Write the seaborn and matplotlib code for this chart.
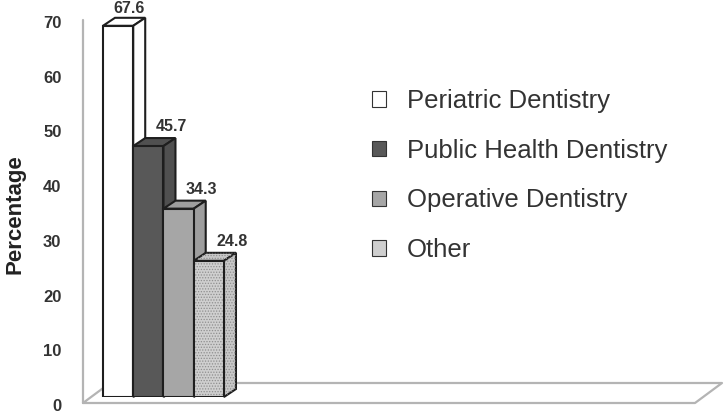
import matplotlib
matplotlib.use("Agg")
import pandas as pd
import seaborn as sns
import matplotlib.pyplot as plt
from matplotlib.patches import Polygon
from matplotlib.lines import Line2D

# chart data
categories = ["Periatric Dentistry", "Public Health Dentistry", "Operative Dentistry", "Other"]
percentages = [67.6, 45.7, 34.3, 24.8]
y_ticks = [0, 10, 20, 30, 40, 50, 60, 70]

front_colors = ["#ffffff", "#585858", "#a6a6a6", "#cfcfcf"]
side_colors = ["#ffffff", "#505050", "#9e9e9e", "#c8c8c8"]
speckled = [False, False, False, True]
label_dx_px = [11, 23, 23, 23]
label_dy_px = [13, 15, 15, 15]

W, H = 726, 413


def fx(px):
    return px / W


def fy(py):
    return 1 - py / H


sns.set_style("white")
plt.rcParams["font.family"] = ["Liberation Sans", "DejaVu Sans"]
plt.rcParams["hatch.linewidth"] = 0.6

df = pd.DataFrame({"group": [""] * len(categories),
                   "Specialty": categories,
                   "Percentage": percentages})

fig = plt.figure(figsize=(W / 100, H / 100), dpi=100)
ax = fig.add_axes([fx(83), fy(397), fx(695) - fx(83), fy(0) - fy(397)])
sns.barplot(data=df, x="group", y="Percentage", hue="Specialty",
            hue_order=categories, palette=front_colors, saturation=1,
            edgecolor="#1e1e1e", linewidth=1.5, width=0.8, ax=ax)
ax.set_xlim(-0.532, 3.514)
ax.set_ylim(0, 72.3)
ax.axis("off")

# depth of the fake 3d boxes, in data units
bbox = ax.get_window_extent()
x0, x1 = ax.get_xlim()
y0, y1 = ax.get_ylim()
dx = 12 * (x1 - x0) / bbox.width
dy = 8 * (y1 - y0) / bbox.height

bars = [b for cont in ax.containers for b in cont]
for i, bar in enumerate(bars):
    bx, bw, bh = bar.get_x(), bar.get_width(), bar.get_height()
    bar.set_zorder(3 + i)
    top = [(bx, bh), (bx + dx, bh + dy), (bx + bw + dx, bh + dy), (bx + bw, bh)]
    side = [(bx + bw, 0), (bx + bw, bh), (bx + bw + dx, bh + dy), (bx + bw + dx, dy)]
    for pts in (top, side):
        ax.add_patch(Polygon(pts, closed=True, facecolor=side_colors[i],
                             edgecolor="#1e1e1e", linewidth=1.5,
                             zorder=2.9 + i, clip_on=False))
        if speckled[i]:
            ax.add_patch(Polygon(pts, closed=True, fill=False, edgecolor="#8f8f8f",
                                 linewidth=0, hatch="......", zorder=2.95 + i,
                                 clip_on=False))
    if speckled[i]:
        front = [(bx, 0), (bx, bh), (bx + bw, bh), (bx + bw, 0)]
        ax.add_patch(Polygon(front, closed=True, facecolor=front_colors[i],
                             edgecolor="none", zorder=3 + i, clip_on=False))
        ax.add_patch(Polygon(front, closed=True, fill=False, edgecolor="#8f8f8f",
                             linewidth=0, hatch="......", zorder=3.05 + i,
                             clip_on=False))
        bar.set_zorder(3.1 + i)
        bar.set_facecolor("none")
    ax.annotate(f"{percentages[i]}", xy=(bx + bw / 2, bh),
                xytext=(label_dx_px[i] / 1.389, label_dy_px[i] / 1.389),
                textcoords="offset points",
                ha="center", va="baseline", fontsize=11.5, fontweight="bold",
                color="#333333", annotation_clip=False, zorder=10)

# floor and wall lines
wall = dict(color="#b4b4b4", linewidth=1.6, transform=fig.transFigure,
            clip_on=False, zorder=1)
ax.add_line(Line2D([fx(83), fx(83)], [fy(20), fy(403)], **wall))
ax.add_line(Line2D([fx(83), fx(695), fx(722), fx(110), fx(83)],
                   [fy(403), fy(403), fy(383), fy(383), fy(403)], **wall))

# tick labels on the back wall scale
tax = fig.add_axes([fx(83), fy(405), 0.001, fy(22) - fy(405)])
tax.set_ylim(0, 70)
tax.set_yticks(y_ticks)
tax.set_xticks([])
tax.set_facecolor("none")
for s in tax.spines.values():
    s.set_visible(False)
tax.tick_params(axis="y", length=0, pad=15.5, labelsize=12, labelcolor="#333333")
for t in tax.get_yticklabels():
    t.set_fontweight("bold")

fig.text(fx(15), fy(214), "Percentage", rotation=90, ha="center", va="center",
         fontsize=16, fontweight="bold", color="#222222")

sns.move_legend(ax, "upper left", bbox_to_anchor=(fx(372), fy(89)),
                bbox_transform=fig.transFigure, frameon=False, title=None,
                fontsize=18.5, handlelength=0.55, handleheight=0.55,
                handletextpad=0.8, labelspacing=1.0, borderpad=0, borderaxespad=0)
leg = ax.get_legend()
for h in leg.legend_handles:
    h.set_edgecolor("#333333")
    h.set_linewidth(0.8)
for t in leg.get_texts():
    t.set_color("#333333")

fig.savefig("out.png", dpi=100)
